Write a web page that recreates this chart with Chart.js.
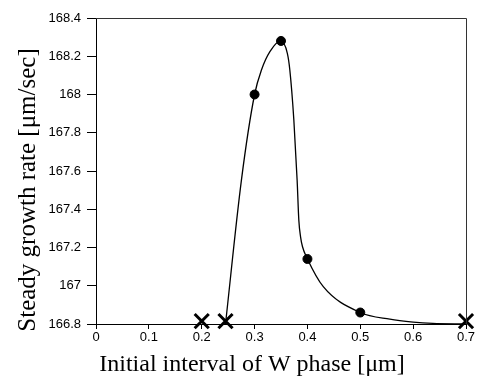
<!DOCTYPE html>
<html>
<head>
<meta charset="utf-8">
<script src="https://cdn.jsdelivr.net/npm/chart.js"></script>
<style>
    html, body { margin: 0; padding: 0; background: #fff; }
</style>
</head>
<body>
<canvas id="grafikGrowth" width="479" height="376"></canvas>
<script>
// Kurva (x: interval awal, y: laju pertumbuhan)
const curveX = [0.245, 0.275, 0.3, 0.313, 0.329, 0.35, 0.362, 0.3667, 0.3743, 0.3805, 0.3837, 0.387, 0.3907, 0.4, 0.43, 0.5, 0.556, 0.6, 0.637, 0.7];
const curveY = [166.8, 167.55, 168.0, 168.128, 168.224, 168.28, 168.215, 168.128, 167.867, 167.553, 167.344, 167.256, 167.204, 167.14, 166.995, 166.86, 166.825, 166.81, 166.803, 166.8];

// Titik hasil perhitungan (bulat)
const dotX = [0.3, 0.35, 0.4, 0.5];
const dotY = [168.0, 168.28, 167.14, 166.86];

// Tanda silang (tidak tumbuh stabil)
const crossX = [0.2, 0.245, 0.7];
const crossY = [166.815, 166.815, 166.815];

// Label sumbu
const xTickValues = [0, 0.1, 0.2, 0.3, 0.4, 0.5, 0.6, 0.7];
const xTickLabels = ['0', '0.1', '0.2', '0.3', '0.4', '0.5', '0.6', '0.7'];
const yTickValues = [166.8, 167, 167.2, 167.4, 167.6, 167.8, 168, 168.2, 168.4];
const yTickLabels = ['166.8', '167', '167.2', '167.4', '167.6', '167.8', '168', '168.2', '168.4'];

const xTitle = 'Initial interval of W phase [\u03bcm]';
const yTitle = 'Steady growth rate [\u03bcm/sec]';

function toPoints(xs, ys) {
    return xs.map(function(x, i) { return { x: x, y: ys[i] }; });
}

// Bingkai atas & kanan + judul sumbu
const frameAndTitles = {
    id: 'frameAndTitles',
    afterDraw: function(chart) {
        const ctx = chart.ctx;
        const a = chart.chartArea;
        ctx.save();
        ctx.strokeStyle = '#333';
        ctx.lineWidth = 1;
        ctx.beginPath();
        ctx.moveTo(a.left, a.top + 0.5);
        ctx.lineTo(a.right + 0.5, a.top + 0.5);
        ctx.lineTo(a.right + 0.5, a.bottom);
        ctx.stroke();

        ctx.fillStyle = '#000';
        ctx.font = '24px "Liberation Serif", "Times New Roman", serif';
        ctx.textAlign = 'center';
        ctx.textBaseline = 'alphabetic';
        ctx.fillText(xTitle, 252, 371);

        ctx.translate(35, 190);
        ctx.rotate(-Math.PI / 2);
        ctx.font = '25px "Liberation Serif", "Times New Roman", serif';
        ctx.fillText(yTitle, 0, 0);
        ctx.restore();
    }
};

const tickFont = { family: '"Liberation Sans", Arial, sans-serif', size: 13 };

let chartGrowth = new Chart(document.getElementById('grafikGrowth').getContext('2d'), {
    type: 'scatter',
    data: {
        datasets: [{
            type: 'line',
            data: toPoints(curveX, curveY),
            borderColor: '#000',
            borderWidth: 1.3,
            pointRadius: 0,
            cubicInterpolationMode: 'monotone',
            fill: false,
            clip: false
        }, {
            data: toPoints(dotX, dotY),
            backgroundColor: '#000',
            borderColor: '#000',
            pointRadius: 4.5,
            clip: false
        }, {
            data: toPoints(crossX, crossY),
            pointStyle: 'crossRot',
            pointRadius: 10,
            borderWidth: 3,
            borderColor: '#000',
            clip: false
        }]
    },
    options: {
        responsive: false,
        animation: false,
        layout: { padding: { top: 18, right: 13, left: 0, bottom: 0 } },
        plugins: {
            legend: { display: false },
            tooltip: { enabled: false }
        },
        scales: {
            x: {
                type: 'linear',
                min: 0,
                max: 0.7,
                afterBuildTicks: function(scale) {
                    scale.ticks = xTickValues.map(function(v) { return { value: v }; });
                },
                afterFit: function(scale) { scale.height = 52; },
                grid: { drawOnChartArea: false, drawTicks: true, tickLength: 5, color: '#000' },
                border: { display: true, color: '#000', width: 1 },
                ticks: {
                    font: tickFont,
                    color: '#000',
                    padding: 1,
                    maxRotation: 0,
                    callback: function(value, index) { return xTickLabels[index]; }
                }
            },
            y: {
                type: 'linear',
                min: 166.8,
                max: 168.4,
                afterBuildTicks: function(scale) {
                    scale.ticks = yTickValues.map(function(v) { return { value: v }; });
                },
                afterFit: function(scale) { scale.width = 96; },
                grid: { drawOnChartArea: false, drawTicks: true, tickLength: 9, color: '#000' },
                border: { display: true, color: '#000', width: 1 },
                ticks: {
                    font: tickFont,
                    color: '#000',
                    padding: 6,
                    callback: function(value, index) { return yTickLabels[index]; }
                }
            }
        }
    },
    plugins: [frameAndTitles]
});
</script>
</body>
</html>
